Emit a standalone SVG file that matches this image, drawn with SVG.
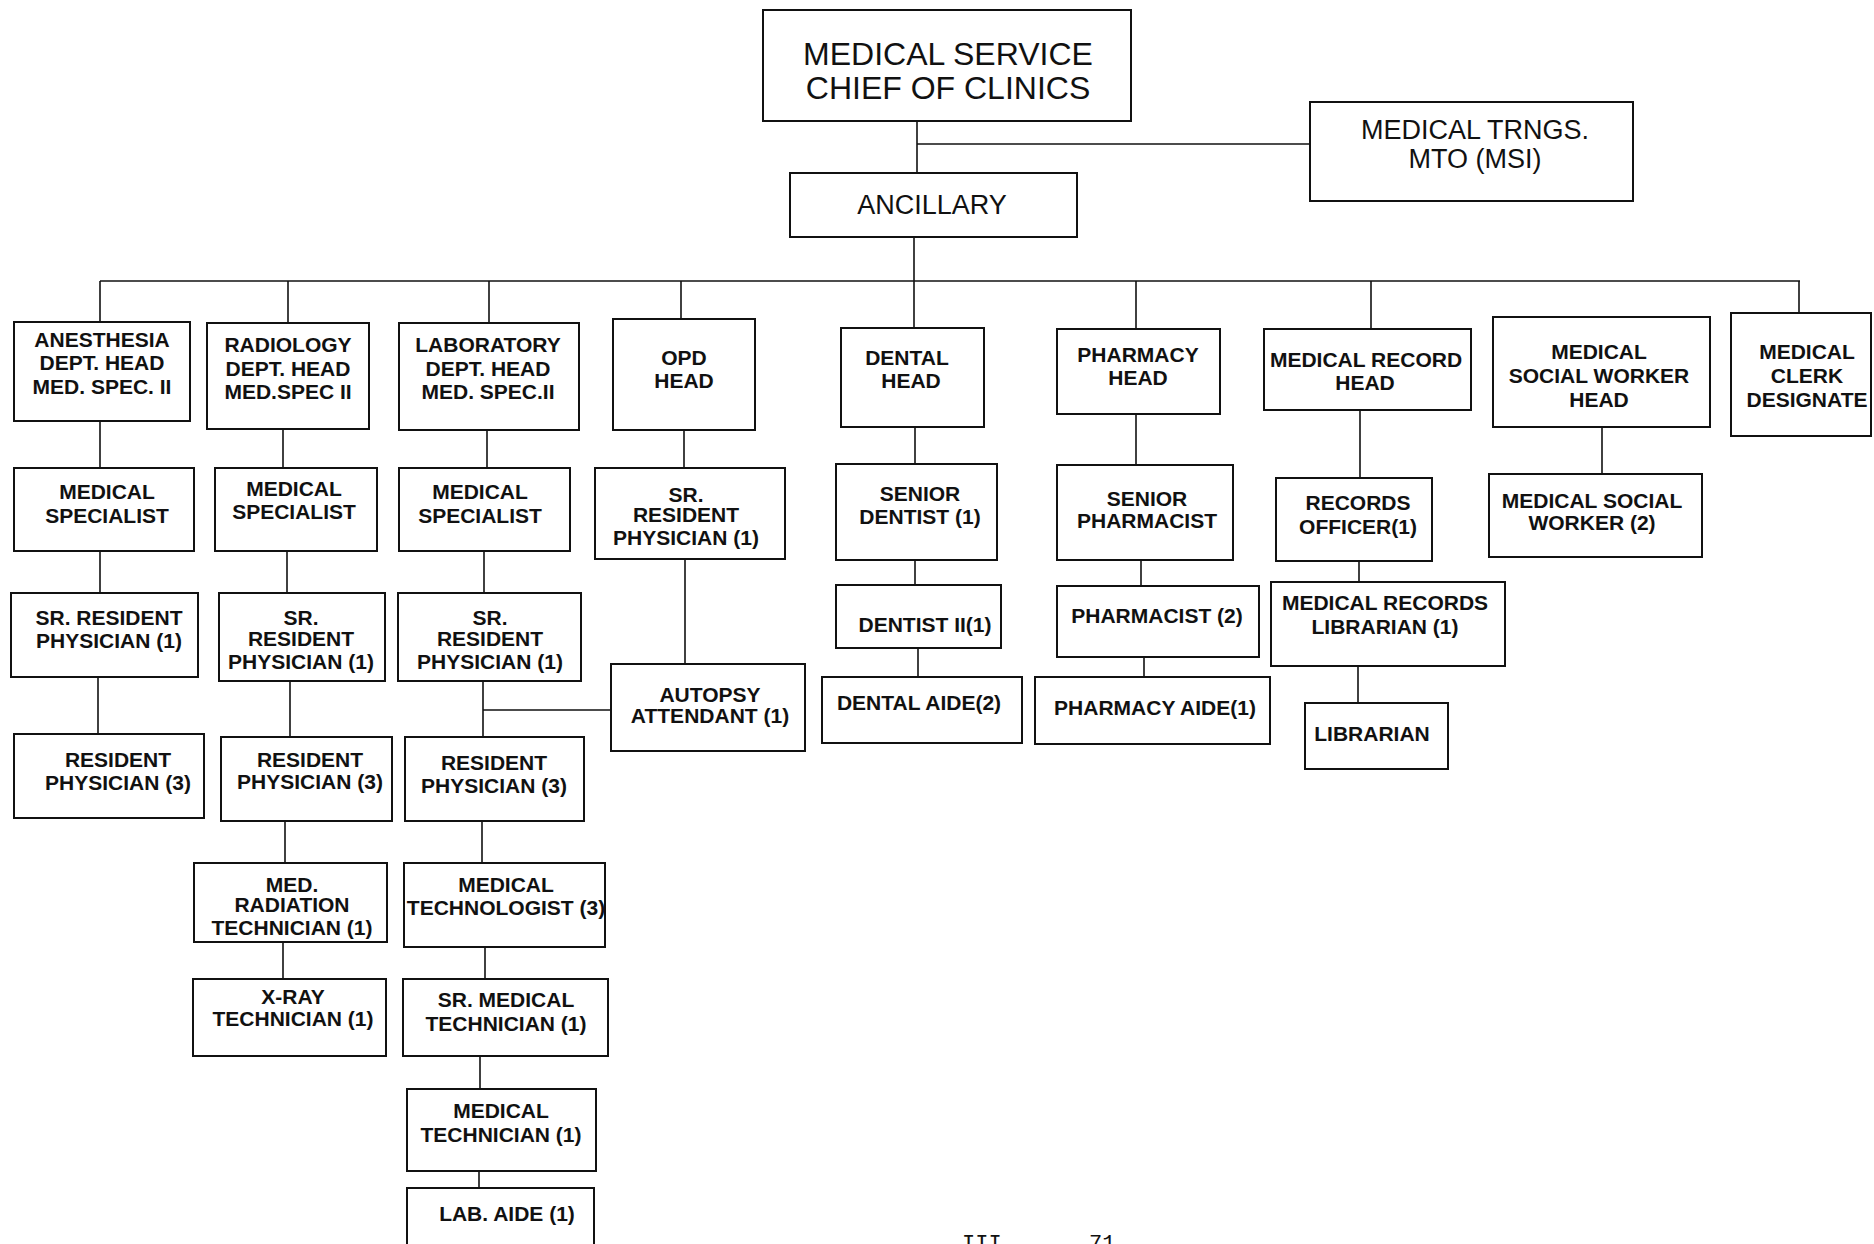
<svg xmlns="http://www.w3.org/2000/svg" width="1874" height="1244" viewBox="0 0 1874 1244">
<style>
  .bg{fill:#ffffff}
  .box rect{fill:#ffffff;stroke:#111;stroke-width:2}
  .box text{font-family:"Liberation Sans",Arial,sans-serif;font-size:21px;font-weight:bold;text-anchor:middle;fill:#111}
  .box text.big{font-size:32px;font-weight:normal}
  .box text.mid{font-size:27px;font-weight:normal}
  .conn line{stroke:#111;stroke-width:1.6;fill:none}
  .pg{font-family:"Liberation Mono","Courier New",monospace;font-size:22px;fill:#111}
</style>
<rect class="bg" x="0" y="0" width="1874" height="1244"/>

<g id="connectors" class="conn">
  <line x1="917" y1="121" x2="917" y2="173"/>
  <line x1="917" y1="144" x2="1310" y2="144"/>
  <line x1="914" y1="237" x2="914" y2="328"/>
  <line x1="100" y1="281" x2="1800" y2="281"/>
  <line x1="100" y1="281" x2="100" y2="322"/>
  <line x1="288" y1="281" x2="288" y2="323"/>
  <line x1="489" y1="281" x2="489" y2="323"/>
  <line x1="681" y1="281" x2="681" y2="319"/>
  <line x1="1136" y1="281" x2="1136" y2="329"/>
  <line x1="1371" y1="281" x2="1371" y2="329"/>
  <line x1="1799" y1="281" x2="1799" y2="313"/>
  <line x1="100" y1="421" x2="100" y2="468"/>
  <line x1="100" y1="551" x2="100" y2="593"/>
  <line x1="98" y1="677" x2="98" y2="734"/>
  <line x1="283" y1="430" x2="283" y2="468"/>
  <line x1="287" y1="551" x2="287" y2="593"/>
  <line x1="290" y1="681" x2="290" y2="737"/>
  <line x1="285" y1="821" x2="285" y2="863"/>
  <line x1="283" y1="942" x2="283" y2="979"/>
  <line x1="487" y1="430" x2="487" y2="468"/>
  <line x1="484" y1="551" x2="484" y2="593"/>
  <line x1="483" y1="681" x2="483" y2="737"/>
  <line x1="483" y1="710" x2="611" y2="710"/>
  <line x1="482" y1="821" x2="482" y2="863"/>
  <line x1="485" y1="947" x2="485" y2="979"/>
  <line x1="480" y1="1056" x2="480" y2="1089"/>
  <line x1="479" y1="1171" x2="479" y2="1188"/>
  <line x1="684" y1="430" x2="684" y2="468"/>
  <line x1="685" y1="559" x2="685" y2="664"/>
  <line x1="915" y1="427" x2="915" y2="464"/>
  <line x1="915" y1="560" x2="915" y2="585"/>
  <line x1="918" y1="648" x2="918" y2="677"/>
  <line x1="1136" y1="414" x2="1136" y2="465"/>
  <line x1="1141" y1="560" x2="1141" y2="586"/>
  <line x1="1144" y1="657" x2="1144" y2="677"/>
  <line x1="1360" y1="410" x2="1360" y2="478"/>
  <line x1="1359" y1="561" x2="1359" y2="582"/>
  <line x1="1358" y1="666" x2="1358" y2="703"/>
  <line x1="1602" y1="427" x2="1602" y2="474"/>
</g>

<g id="chief" class="box"><rect x="763" y="10" width="368" height="111"/>
  <text class="big" x="948" y="65">MEDICAL SERVICE</text><text class="big" x="948" y="99">CHIEF OF CLINICS</text></g>
<g id="trngs" class="box"><rect x="1310" y="102" width="323" height="99"/>
  <text class="mid" x="1475" y="139">MEDICAL TRNGS.</text><text class="mid" x="1475" y="168">MTO (MSI)</text></g>
<g id="ancillary" class="box"><rect x="790" y="173" width="287" height="64"/>
  <text class="mid" x="932" y="214">ANCILLARY</text></g>

<g id="anesthesia" class="box"><rect x="14" y="322" width="176" height="99"/>
  <text x="102" y="347">ANESTHESIA</text><text x="102" y="370">DEPT. HEAD</text><text x="102" y="394">MED. SPEC. II</text></g>
<g id="radiology" class="box"><rect x="207" y="323" width="162" height="106"/>
  <text x="288" y="352">RADIOLOGY</text><text x="288" y="376">DEPT. HEAD</text><text x="288" y="399">MED.SPEC II</text></g>
<g id="laboratory" class="box"><rect x="399" y="323" width="180" height="107"/>
  <text x="488" y="352">LABORATORY</text><text x="488" y="376">DEPT. HEAD</text><text x="488" y="399">MED. SPEC.II</text></g>
<g id="opd" class="box"><rect x="613" y="319" width="142" height="111"/>
  <text x="684" y="365">OPD</text><text x="684" y="388">HEAD</text></g>
<g id="dental" class="box"><rect x="841" y="328" width="143" height="99"/>
  <text x="907" y="365">DENTAL</text><text x="911" y="388">HEAD</text></g>
<g id="pharmacy" class="box"><rect x="1057" y="329" width="163" height="85"/>
  <text x="1138" y="362">PHARMACY</text><text x="1138" y="385">HEAD</text></g>
<g id="medrecord" class="box"><rect x="1264" y="329" width="207" height="81"/>
  <text x="1366" y="367">MEDICAL RECORD</text><text x="1365" y="390">HEAD</text></g>
<g id="mswhead" class="box"><rect x="1493" y="317" width="217" height="110"/>
  <text x="1599" y="359">MEDICAL</text><text x="1599" y="383">SOCIAL WORKER</text><text x="1599" y="407">HEAD</text></g>
<g id="clerk" class="box"><rect x="1731" y="313" width="140" height="123"/>
  <text x="1807" y="359">MEDICAL</text><text x="1807" y="383">CLERK</text><text x="1807" y="407">DESIGNATE</text></g>

<g id="medspec1" class="box"><rect x="14" y="468" width="180" height="83"/>
  <text x="107" y="499">MEDICAL</text><text x="107" y="523">SPECIALIST</text></g>
<g id="medspec2" class="box"><rect x="215" y="468" width="162" height="83"/>
  <text x="294" y="496">MEDICAL</text><text x="294" y="519">SPECIALIST</text></g>
<g id="medspec3" class="box"><rect x="399" y="468" width="171" height="83"/>
  <text x="480" y="499">MEDICAL</text><text x="480" y="523">SPECIALIST</text></g>
<g id="opdsr" class="box"><rect x="595" y="468" width="190" height="91"/>
  <text x="686" y="502">SR.</text><text x="686" y="522">RESIDENT</text><text x="686" y="545">PHYSICIAN (1)</text></g>
<g id="srdentist" class="box"><rect x="836" y="464" width="161" height="96"/>
  <text x="920" y="501">SENIOR</text><text x="920" y="524">DENTIST (1)</text></g>
<g id="srpharmacist" class="box"><rect x="1057" y="465" width="176" height="95"/>
  <text x="1147" y="506">SENIOR</text><text x="1147" y="528">PHARMACIST</text></g>
<g id="recofficer" class="box"><rect x="1276" y="478" width="156" height="83"/>
  <text x="1358" y="510">RECORDS</text><text x="1358" y="534">OFFICER(1)</text></g>
<g id="msw2" class="box"><rect x="1489" y="474" width="213" height="83"/>
  <text x="1592" y="508">MEDICAL SOCIAL</text><text x="1592" y="530">WORKER (2)</text></g>

<g id="srres1" class="box"><rect x="11" y="593" width="187" height="84"/>
  <text x="109" y="625">SR. RESIDENT</text><text x="109" y="648">PHYSICIAN (1)</text></g>
<g id="srres2" class="box"><rect x="219" y="593" width="166" height="88"/>
  <text x="301" y="625">SR.</text><text x="301" y="646">RESIDENT</text><text x="301" y="669">PHYSICIAN (1)</text></g>
<g id="srres3" class="box"><rect x="398" y="593" width="183" height="88"/>
  <text x="490" y="625">SR.</text><text x="490" y="646">RESIDENT</text><text x="490" y="669">PHYSICIAN (1)</text></g>
<g id="dentist2" class="box"><rect x="836" y="585" width="165" height="63"/>
  <text x="925" y="632">DENTIST II(1)</text></g>
<g id="pharmacist" class="box"><rect x="1057" y="586" width="202" height="71"/>
  <text x="1157" y="623">PHARMACIST (2)</text></g>
<g id="mrlibrarian" class="box"><rect x="1271" y="582" width="234" height="84"/>
  <text x="1385" y="610">MEDICAL RECORDS</text><text x="1385" y="634">LIBRARIAN (1)</text></g>

<g id="autopsy" class="box"><rect x="611" y="664" width="194" height="87"/>
  <text x="710" y="702">AUTOPSY</text><text x="710" y="723">ATTENDANT (1)</text></g>
<g id="dentalaide" class="box"><rect x="822" y="677" width="200" height="66"/>
  <text x="919" y="710">DENTAL AIDE(2)</text></g>
<g id="pharmacyaide" class="box"><rect x="1035" y="677" width="235" height="67"/>
  <text x="1155" y="715">PHARMACY AIDE(1)</text></g>
<g id="librarian" class="box"><rect x="1305" y="703" width="143" height="66"/>
  <text x="1372" y="741">LIBRARIAN</text></g>

<g id="resphys1" class="box"><rect x="14" y="734" width="190" height="84"/>
  <text x="118" y="767">RESIDENT</text><text x="118" y="790">PHYSICIAN (3)</text></g>
<g id="resphys2" class="box"><rect x="221" y="737" width="171" height="84"/>
  <text x="310" y="767">RESIDENT</text><text x="310" y="789">PHYSICIAN (3)</text></g>
<g id="resphys3" class="box"><rect x="405" y="737" width="179" height="84"/>
  <text x="494" y="770">RESIDENT</text><text x="494" y="793">PHYSICIAN (3)</text></g>

<g id="medradtech" class="box"><rect x="194" y="863" width="193" height="79"/>
  <text x="292" y="892">MED.</text><text x="292" y="912">RADIATION</text><text x="292" y="935">TECHNICIAN (1)</text></g>
<g id="medtechnologist" class="box"><rect x="404" y="863" width="201" height="84"/>
  <text x="506" y="892">MEDICAL</text><text x="506" y="915">TECHNOLOGIST (3)</text></g>
<g id="xraytech" class="box"><rect x="193" y="979" width="193" height="77"/>
  <text x="293" y="1004">X-RAY</text><text x="293" y="1026">TECHNICIAN (1)</text></g>
<g id="srmedtech" class="box"><rect x="403" y="979" width="205" height="77"/>
  <text x="506" y="1007">SR. MEDICAL</text><text x="506" y="1031">TECHNICIAN (1)</text></g>
<g id="medtech" class="box"><rect x="407" y="1089" width="189" height="82"/>
  <text x="501" y="1118">MEDICAL</text><text x="501" y="1142">TECHNICIAN (1)</text></g>
<g id="labaide" class="box"><rect x="407" y="1188" width="187" height="70"/>
  <text x="507" y="1221">LAB. AIDE (1)</text></g>

<text class="pg" x="962" y="1250">III</text>
<text class="pg" x="1089" y="1250">71</text>
</svg>
